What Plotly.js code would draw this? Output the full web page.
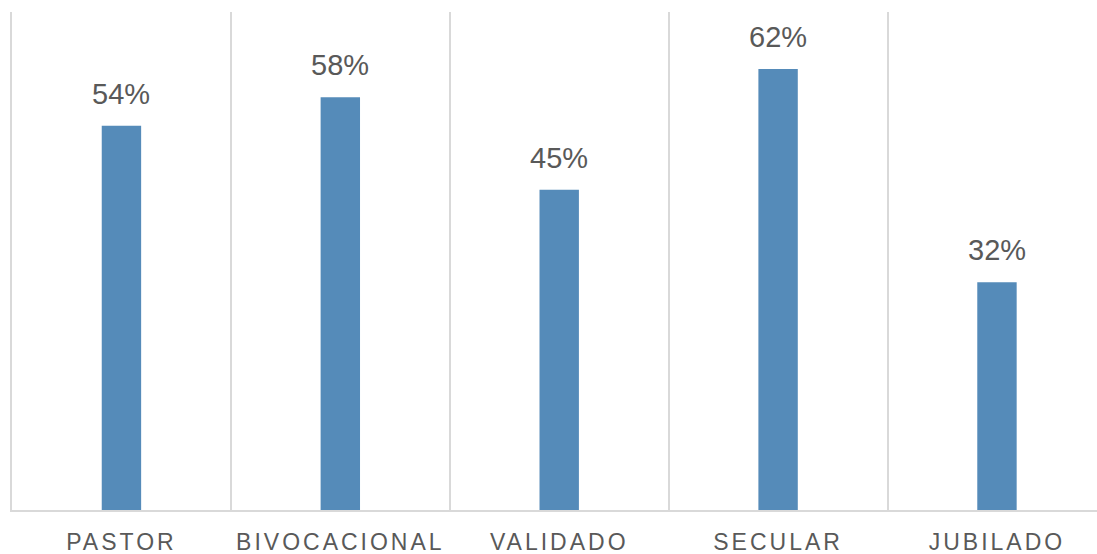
<!DOCTYPE html>
<html>
<head>
<meta charset="utf-8">
<script src="https://cdn.plot.ly/plotly-3.0.1.min.js"></script>
<style>
  html, body { margin: 0; padding: 0; background: #fff; }
  #chart { width: 1097px; height: 554px; }
  .xtick text { letter-spacing: 3px; }
</style>
</head>
<body>
<div id="chart"></div>
<script>
const categories = ["PASTOR", "BIVOCACIONAL", "VALIDADO", "SECULAR", "JUBILADO"];
const values = [54, 58, 45, 62, 32];

const trace = {
  type: "bar",
  x: categories,
  y: values,
  width: 0.18,
  marker: { color: "#558BB9" },
  hoverinfo: "x+y"
};

const annotations = categories.map((c, i) => ({
  x: c,
  y: values[i],
  text: values[i] + "%",
  showarrow: false,
  xanchor: "center",
  yanchor: "bottom",
  yshift: 14,
  font: { family: "Liberation Sans, Arial, sans-serif", size: 29, color: "#595959" }
}));

const layout = {
  width: 1097,
  height: 554,
  margin: { l: 12, r: 0, t: 12, b: 44 },
  paper_bgcolor: "#ffffff",
  plot_bgcolor: "#ffffff",
  showlegend: false,
  xaxis: {
    type: "category",
    range: [-0.5, 4.457],
    tickson: "boundaries",
    showgrid: true,
    gridcolor: "#d9d9d9",
    gridwidth: 2,
    ticks: "",
    showline: true,
    linecolor: "#d9d9d9",
    linewidth: 2,
    ticklabelstandoff: 10,
    tickfont: { family: "Liberation Sans, Arial, sans-serif", size: 23, color: "#595959" },
    fixedrange: true
  },
  yaxis: {
    range: [0, 70],
    showgrid: false,
    zeroline: false,
    showline: true,
    linecolor: "#d9d9d9",
    linewidth: 2,
    showticklabels: false,
    ticks: "",
    fixedrange: true
  },
  annotations: annotations
};

Plotly.newPlot("chart", [trace], layout, { displayModeBar: false, staticPlot: true });
</script>
</body>
</html>
